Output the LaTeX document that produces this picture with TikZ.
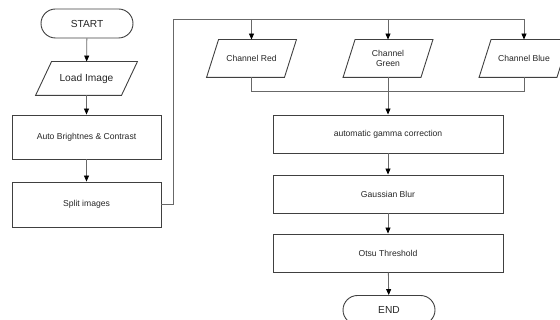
\documentclass[tikz,border=0pt]{standalone}
\usepackage{fontspec}
\setmainfont{Liberation Sans}
\usetikzlibrary{shapes.misc,arrows.meta}
\definecolor{boxc}{HTML}{404040}
\definecolor{linec}{HTML}{686868}
\tikzset{
  base/.style={draw=boxc, line width=0.9pt, inner sep=0pt, align=center, text=black!85, font=\fontsize{8.6}{10}\selectfont},
  term/.style={base, rounded rectangle, minimum width=92pt, minimum height=29pt, font=\fontsize{10.2}{12}\selectfont},
  proc/.style={base, rectangle, minimum height=38pt},
  io/.style={base, draw=none, rectangle, minimum width=77pt, minimum height=37pt,
    append after command={\pgfextra{\draw[draw=boxc,line width=0.9pt]
      ([xshift=#1]\tikzlastnode.north west) -- ([xshift=#1]\tikzlastnode.north east) --
      ([xshift=-#1]\tikzlastnode.south east) -- ([xshift=-#1]\tikzlastnode.south west) -- cycle;}}},
  io/.default=6pt,
  conn/.style={draw=linec, line width=0.8pt},
  arr/.style={conn, -{Triangle[length=6pt,width=5pt,fill=black,color=black]}}
}
\begin{document}
\begin{tikzpicture}[x=1pt,y=-1pt]
\useasboundingbox (0,0) rectangle (560,320);
\clip (0,0) rectangle (560,320);
\node[term] (start) at (87,23.5) {START};
\node[io=8pt, minimum width=85pt, minimum height=33pt, font=\fontsize{10.2}{12}\selectfont] (load) at (86.5,78.5) {Load Image};
\node[proc, minimum width=149pt, minimum height=44pt] (auto) at (86.5,137) {Auto Brightnes \& Contrast};
\node[proc, minimum width=149pt, minimum height=45pt] (split) at (86.5,204.5) {Split images};
\node[io] (red) at (251.5,58.5) {Channel Red};
\node[io] (green) at (388,58.5) {Channel\\Green};
\node[io] (blue) at (524,58.5) {Channel Blue};
\node[proc, minimum width=230pt] (gamma) at (388,134) {automatic gamma correction};
\node[proc, minimum width=230pt] (gauss) at (388,194) {Gaussian Blur};
\node[proc, minimum width=230pt] (otsu) at (388,253) {Otsu Threshold};
\node[term] (end) at (389,310) {END};
\coordinate (tr) at (173,19);
\coordinate (mg) at (388,91);
\draw[arr] (start) -- (load);
\draw[arr] (load) -- (auto);
\draw[arr] (auto) -- (split);
\draw[arr] (split.east) -| (tr) -| (blue.north);
\draw[arr] (red.north |- tr) -- (red.north);
\draw[arr] (green.north |- tr) -- (green.north);
\draw[conn] (red.south) |- (mg);
\draw[conn] (blue.south) |- (mg);
\draw[arr] (green.south) -- (gamma.north);
\draw[arr] (gamma) -- (gauss);
\draw[arr] (gauss) -- (otsu);
\draw[arr] (otsu) -- (end);
\end{tikzpicture}
\end{document}
